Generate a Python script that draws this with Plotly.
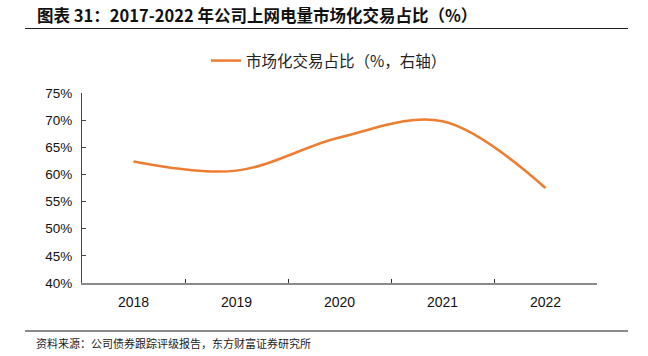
import plotly.graph_objects as go

years = ["2018", "2019", "2020", "2021", "2022"]
share = [62.4, 60.7, 66.8, 69.8, 57.5]
series_name = "市场化交易占比（%，右轴）"
y_ticks = [40, 45, 50, 55, 60, 65, 70, 75]
y_tick_labels = [f"{v}%" for v in y_ticks]
title_text = "图表 31：2017-2022 年公司上网电量市场化交易占比（%）"
source_text = "资料来源：公司债券跟踪评级报告，东方财富证券研究所"

W, H = 648, 356
L, R, T, B = 82, 51, 93, 73
pw, ph = W - L - R, H - T - B

def px(x):
    return (x - L) / pw

def py(y):
    return (H - B - y) / ph

fig = go.Figure()
fig.add_trace(go.Scatter(
    x=years, y=share, mode="lines", name=series_name,
    line=dict(color="#ED7D31", width=2.5, shape="spline", smoothing=1.0),
))

fig.update_layout(
    width=W, height=H,
    margin=dict(l=L, r=R, t=T, b=B),
    paper_bgcolor="white", plot_bgcolor="white",
    showlegend=True,
    legend=dict(orientation="h", x=px(206), xanchor="left", y=py(61), yanchor="middle",
                font=dict(family="Noto Sans CJK SC", size=15.5, color="#222"),
                itemwidth=30),
    font=dict(family="Liberation Sans", size=13, color="#222"),
    xaxis=dict(
        type="category", range=[-0.5, 4.5], showline=True, linecolor="#8a8a8a", linewidth=2,
        ticks="inside", tickson="boundaries", ticklen=4, tickcolor="#333",
        showgrid=False, zeroline=False, ticklabelstandoff=5,
        tickfont=dict(family="Liberation Sans", size=14, color="#111"),
    ),
    yaxis=dict(
        range=[40, 75], tickvals=y_ticks, ticktext=y_tick_labels, showline=True,
        linecolor="#444", linewidth=1, ticks="inside", ticklen=4, tickcolor="#444",
        showgrid=False, zeroline=False, ticklabelstandoff=6,
        tickfont=dict(family="Liberation Sans", size=13.5, color="#111"),
    ),
)

fig.add_annotation(x=px(35), y=py(15), xref="paper", yref="paper", xanchor="left", yanchor="middle",
                   text="<b>" + title_text + "</b>", showarrow=False,
                   font=dict(family="Noto Sans CJK SC", size=16.5, color="#111"))
fig.add_annotation(x=px(34), y=py(343), xref="paper", yref="paper", xanchor="left", yanchor="middle",
                   text=source_text, showarrow=False,
                   font=dict(family="Noto Sans CJK SC", size=11, color="#222"))
fig.add_shape(type="line", xref="paper", yref="paper", x0=px(25), x1=px(628), y0=py(28.5), y1=py(28.5),
              line=dict(color="#222", width=1))
fig.add_shape(type="line", xref="paper", yref="paper", x0=px(25), x1=px(628), y0=py(331), y1=py(331),
              line=dict(color="#8a8a8a", width=2))

fig.write_html("out.html", config={"displayModeBar": False},
               post_script="document.body.style.margin='0';document.body.style.overflow='hidden';")
